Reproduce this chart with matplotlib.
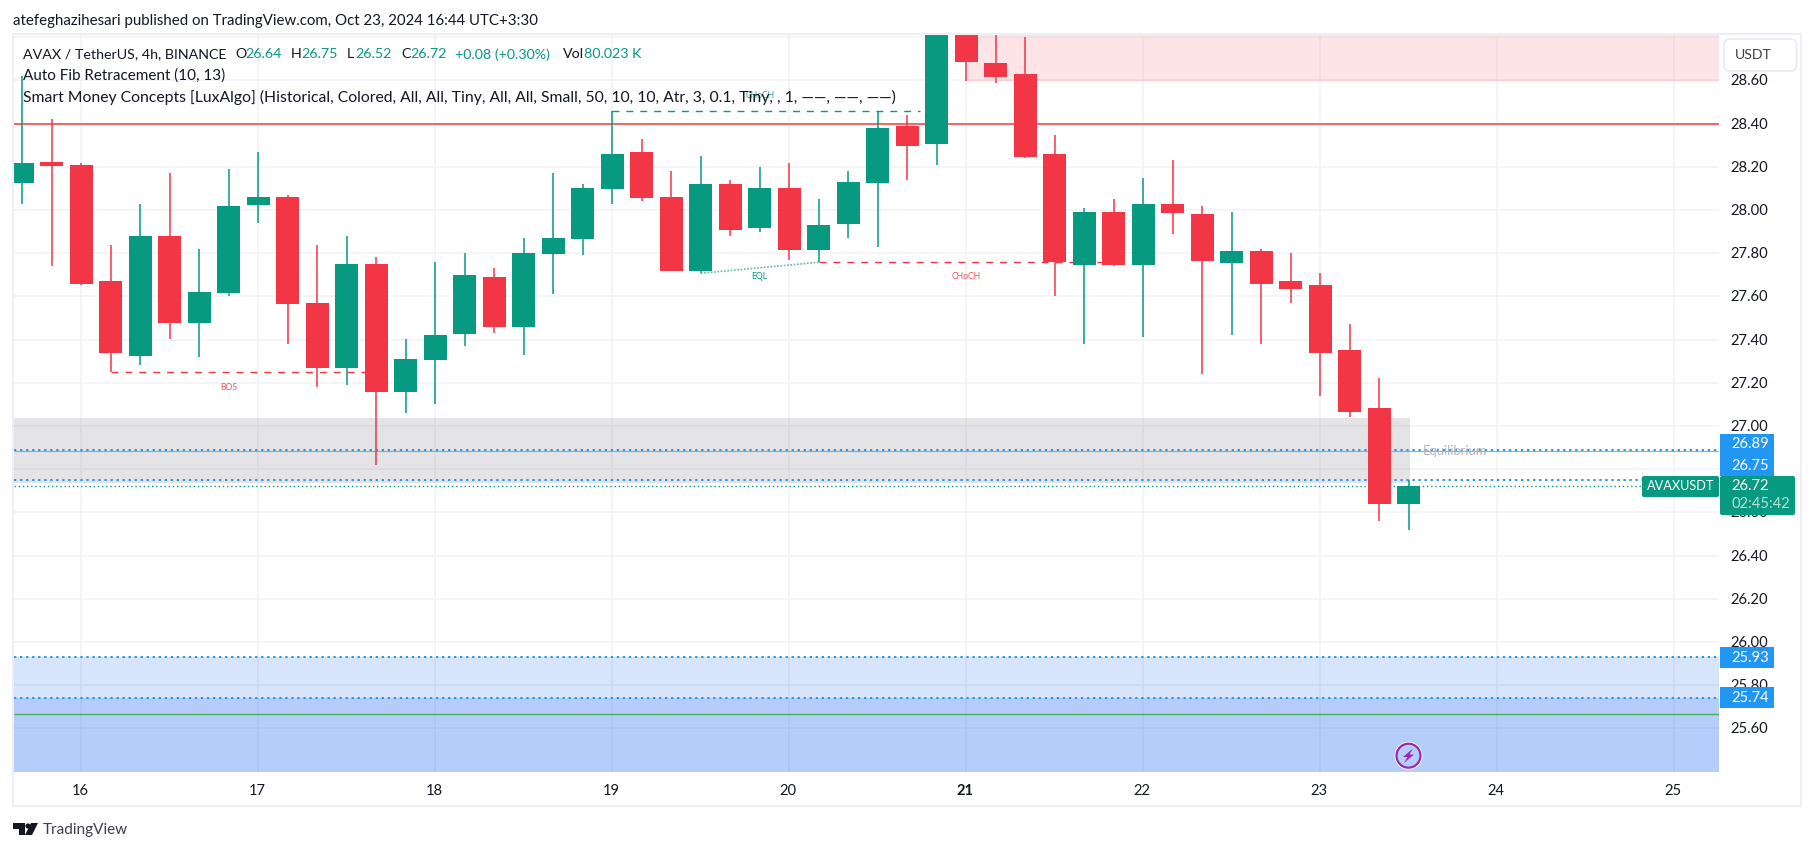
"""Recreates the AVAX/USDT 4h TradingView chart snapshot."""
import matplotlib
matplotlib.use("Agg")
import matplotlib.pyplot as plt
from matplotlib.patches import Circle, FancyBboxPatch, Polygon, Rectangle

W, H = 1814, 851
plt.rcParams["font.family"] = ["Lato", "DejaVu Sans"]

# candle values, one per 4h bar, first bar sits 2 bars before the "16" tick
opens = [28.127, 28.22, 28.208, 27.671, 27.324, 27.880, 27.477, 27.616, 28.023, 28.06,
         27.569, 27.269, 27.75, 27.157, 27.306, 27.426, 27.690, 27.458, 27.796, 27.866,
         28.097, 28.269, 28.06, 27.718, 28.120, 27.917, 28.102, 27.815, 27.935, 28.125,
         28.389, 28.306, 28.90, 28.681, 28.63, 28.259, 27.745, 27.991, 27.745, 28.028,
         27.981, 27.755, 27.81, 27.671, 27.653, 27.352, 27.083, 26.64]
closes = [28.218, 28.205, 27.657, 27.338, 27.880, 27.477, 27.620, 28.019, 28.060, 27.565,
          27.269, 27.75, 27.157, 27.310, 27.421, 27.699, 27.458, 27.801, 27.870, 28.102,
          28.259, 28.056, 27.718, 28.120, 27.907, 28.102, 27.815, 27.931, 28.130, 28.380,
          28.296, 28.90, 28.685, 28.616, 28.245, 27.758, 27.991, 27.745, 28.028, 27.986,
          27.764, 27.810, 27.657, 27.634, 27.338, 27.065, 26.639, 26.72]
highs = [28.62, 28.42, 28.218, 27.838, 28.028, 28.171, 27.819, 28.190, 28.269, 28.069,
         27.838, 27.880, 27.782, 27.403, 27.759, 27.801, 27.731, 27.870, 28.171, 28.120,
         28.457, 28.329, 28.181, 28.25, 28.139, 28.199, 28.218, 28.051, 28.181, 28.457,
         28.44, 29.0, 28.95, 28.85, 28.80, 28.347, 28.009, 28.051, 28.148, 28.231,
         28.019, 27.991, 27.819, 27.801, 27.708, 27.472, 27.221, 26.75]
lows = [28.028, 27.742, 27.653, 27.248, 27.282, 27.403, 27.319, 27.602, 27.940, 27.380,
        27.181, 27.190, 26.819, 27.06, 27.102, 27.370, 27.431, 27.329, 27.611, 27.792,
        28.028, 28.042, 27.718, 27.707, 27.880, 27.898, 27.769, 27.758, 27.870, 27.829,
        28.139, 28.208, 28.597, 28.588, 28.24, 27.602, 27.38, 27.741, 27.412, 27.889,
        27.241, 27.421, 27.38, 27.569, 27.14, 27.043, 26.562, 26.52]

day_ticks = [16, 17, 18, 19, 20, 21, 22, 23, 24, 25]
price_ticks = [25.6, 25.8, 26.0, 26.2, 26.4, 26.6, 26.8, 27.0, 27.2, 27.4,
               27.6, 27.8, 28.0, 28.2, 28.4, 28.6, 28.8]
blue_levels = [26.89, 26.75, 25.93, 25.74]
red_level = 28.40
green_upper = 26.882
green_lower = 25.665
last_price = 26.72
gray_zone = (26.737, 27.037)

legend_lines = ["Auto Fib Retracement (10, 13)",
                "Smart Money Concepts [LuxAlgo] (Historical, Colored, All, All, Tiny, All, All, "
                "Small, 50, 10, 10, Atr, 3, 0.1, Tiny, , 1, ——, ——, ——)"]

GREEN = "#089981"
RED = "#f23645"
BLUE = "#2196f3"
TXT = "#131722"
GRID = "#f2f3f5"

# pixel geometry of the pane
LEFT, RIGHT, TOP, BOTTOM = 13.5, 1719, 34.5, 772
PX_PER_DAY = 177.0
PX_PER_UNIT = 216.0
X16, Y27 = 81.3, 426.0


def bar_x(i):
    return 16 + (i - 2) / 6


def py(price):
    """Figure pixel row of a price."""
    return Y27 + (27 - price) * PX_PER_UNIT


fig = plt.figure(figsize=(W / 100, H / 100), dpi=100, facecolor="white")
ax = fig.add_axes([LEFT / W, 1 - BOTTOM / H, (RIGHT - LEFT) / W, (BOTTOM - TOP) / H])
ax.set_xlim(16 + (LEFT - X16) / PX_PER_DAY, 16 + (RIGHT - X16) / PX_PER_DAY)
ax.set_ylim(27 - (BOTTOM - Y27) / PX_PER_UNIT, 27 + (Y27 - TOP) / PX_PER_UNIT)
ax.set_axis_off()
x0, x1 = ax.get_xlim()
y0, y1 = ax.get_ylim()

# grid
ax.hlines(price_ticks, x0, x1, color=GRID, lw=1.1, zorder=1)
ax.vlines(day_ticks, y0, y1, color=GRID, lw=1.1, zorder=1)

# zones, translucent so the grid shows through
ax.add_patch(Rectangle((x0, gray_zone[0]), bar_x(47) + 0.004 - x0, gray_zone[1] - gray_zone[0],
                       fc="#787b86", alpha=0.2, ec="none", zorder=2))
ax.fill_between([21, x1], 28.60, y1, color=RED, alpha=0.125, lw=0, zorder=2)
ax.hlines(28.60, 21, x1, color=RED, alpha=0.18, lw=1, zorder=2)
ax.fill_between([x0, x1], y0, 25.93, color="#1060f3", alpha=0.17, lw=0, zorder=2)
ax.fill_between([x0, x1], y0, 25.74, color="#1060f3", alpha=0.17, lw=0, zorder=2)

# level lines
ax.hlines(red_level, x0, x1, color="#f23d3d", lw=1.1, zorder=3)
ax.hlines(green_lower, x0, x1, color="#4caf50", lw=1.0, zorder=3)
ax.hlines(green_upper, x0, x1, color="#4caf50", lw=0.8, alpha=0.7, zorder=3)
ax.hlines(blue_levels, x0, x1, color=BLUE, lw=1.4, linestyles=(0, (1.2, 1.9)), zorder=3.5)
ax.hlines(last_price, x0, 16 + (1642 - X16) / PX_PER_DAY, color=GREEN, lw=1.0,
          linestyles=(0, (1, 2)), zorder=3)

# structure lines and labels
ax.plot([bar_x(20), bar_x(30) + 0.07], [28.457, 28.457], color=GREEN, lw=1, ls=(0, (5, 5)), zorder=3)
ax.plot([bar_x(3), bar_x(12) - 0.04], [27.248, 27.248], color=RED, lw=1, ls=(0, (5, 5)), zorder=3)
ax.plot([bar_x(27), bar_x(37)], [27.758, 27.758], color=RED, lw=1, ls=(0, (5, 5)), zorder=3)
ax.plot([bar_x(23), bar_x(27)], [27.707, 27.758], color="#5fb8a6", lw=1.2, ls=(0, (1, 1)), zorder=3)
ax.text(bar_x(25), 28.53, "CHoCH", color=GREEN, fontsize=6.2, ha="center", va="center", alpha=0.85, zorder=6)
ax.text(bar_x(7), 27.18, "BOS", color=RED, fontsize=6.2, ha="center", va="center", alpha=0.85, zorder=6)
ax.text(bar_x(25), 27.69, "EQL", color=GREEN, fontsize=6.2, ha="center", va="center", zorder=6)
ax.text(bar_x(32), 27.69, "CHoCH", color=RED, fontsize=6.2, ha="center", va="center", alpha=0.85, zorder=6)

# candles
xs = [bar_x(i) for i in range(len(opens))]
colors = [GREEN if c >= o else RED for o, c in zip(opens, closes)]
ax.vlines(xs, lows, highs, colors=colors, lw=1.1, zorder=4)
ax.bar(xs, [abs(c - o) for o, c in zip(opens, closes)],
       bottom=[min(o, c) for o, c in zip(opens, closes)],
       width=23 / PX_PER_DAY, color=colors, lw=0, zorder=5)

# everything outside the pane goes on a pixel overlay
ui = fig.add_axes([0, 0, 1, 1], zorder=10)
ui.set_xlim(0, W)
ui.set_ylim(H, 0)
ui.set_axis_off()
ui.patch.set_alpha(0)

# chart frame
ui.add_patch(Rectangle((12.7, 33.5), 1787.8, 772.8, fill=False, ec="#eeeff4", lw=1.5))

# header and legend
ui.text(13, 20.5, "atefeghazihesari published on TradingView.com, Oct 23, 2024 16:44 UTC+3:30",
        color=TXT, fontsize=10.8, va="center")
for x, s, col in [(23, "AVAX / TetherUS, 4h, BINANCE", TXT), (235, "O", TXT), (245, "26.64", GREEN),
                  (291, "H", TXT), (301, "26.75", GREEN), (347, "L", TXT), (355, "26.52", GREEN),
                  (401, "C", TXT), (410, "26.72", GREEN), (455, "+0.08 (+0.30%)", GREEN),
                  (563, "Vol", TXT), (584, "80.023 K", GREEN)]:
    ui.text(x, 54.5, s, color=col, fontsize=10.3, va="center")
ui.text(23, 75.5, legend_lines[0], color=TXT, fontsize=11, va="center")
ui.text(23, 97, legend_lines[1], color=TXT, fontsize=11.3, va="center")

# USDT button
ui.add_patch(FancyBboxPatch((1724, 39), 72.5, 32, boxstyle="round,pad=0,rounding_size=6", fc="white",
                            ec="#e8eaf0", lw=1.2, zorder=4))
ui.text(1753.5, 55, "USDT", color="#3c3f4a", fontsize=10.2, ha="center", va="center", zorder=5)

# axis labels
for p in price_ticks[:-1]:
    ui.text(1730, py(p) + 1, f"{p:.2f}", color=TXT, fontsize=10.6, va="center", zorder=2)
for d in day_ticks:
    ui.text(X16 + (d - 16) * PX_PER_DAY - 1, 791, str(d), color=TXT, fontsize=10.6,
            ha="center", va="center", fontweight="bold" if d == 21 else "normal", zorder=2)

# price tags
for p, top in zip(blue_levels, [434, 455, 647, 687]):
    ui.add_patch(Rectangle((1720, top), 54, 21, fc=BLUE, ec="none", zorder=4))
    ui.text(1731, top + 10.5, f"{p:.2f}", color="white", fontsize=10.6, va="center", zorder=5)
ui.add_patch(FancyBboxPatch((1720, 476), 75, 39, boxstyle="round,pad=0,rounding_size=2", fc=GREEN, ec="none", zorder=4))
ui.text(1731, 486.5, f"{last_price:.2f}", color="white", fontsize=10.6, va="center", zorder=5)
ui.text(1731, 504.5, "02:45:42", color="#b5e0d7", fontsize=10.6, va="center", zorder=5)
ui.add_patch(FancyBboxPatch((1642, 476), 77, 21, boxstyle="round,pad=0,rounding_size=2", fc=GREEN, ec="none", zorder=4))
ui.text(1680.5, 486.5, "AVAXUSDT", color="white", fontsize=9.2, ha="center", va="center", zorder=5)

ui.text(1423, 451, "Equilibrium", color="#b2b5be", fontsize=9.4, va="center")

# lightning marker
ui.add_patch(Circle((1408.5, 755.7), 14, fc="white", ec="none"))
ui.add_patch(Circle((1408.5, 755.7), 12, fc="#b5cdfa", ec="#9c27b0", lw=1.6))
ui.add_patch(Polygon([(1413, 748.5), (1403, 757), (1407.5, 757), (1404, 763), (1414, 754.5), (1409.5, 754.5)],
                     fc="#9c27b0", ec="none"))

# TradingView logo
ui.add_patch(Polygon([(13, 823), (25, 823), (25, 835), (19, 835), (19, 829), (13, 829)], fc=TXT, ec="none"))
ui.add_patch(Circle((28, 826), 2.6, fc=TXT, ec="none"))
ui.add_patch(Polygon([(31, 823), (38, 823), (32, 835), (25, 835)], fc=TXT, ec="none"))
ui.text(43, 830, "TradingView", color="#3c3f4a", fontsize=11, va="center")

fig.savefig("out.png", dpi=100)
